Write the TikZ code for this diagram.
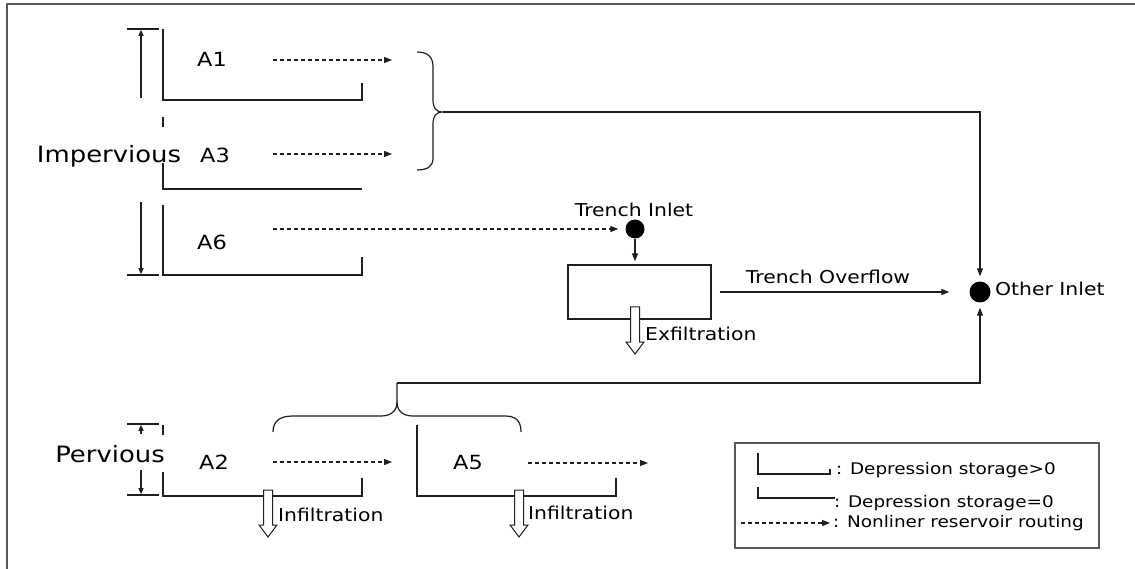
\documentclass[tikz,border=0pt]{standalone}
\usepackage{fontspec}
\setmainfont{DejaVu Sans}[FakeStretch=1.15]
\usetikzlibrary{arrows.meta}
\begin{document}
\begin{tikzpicture}[x=1pt,y=-1pt,
  ink/.style={draw=black!88, line width=1.3pt},
  conn/.style={ink, -{Triangle[length=8pt,width=6pt]}},
  flow/.style={draw=black!88, line width=1.2pt, dash pattern=on 4pt off 3pt,
    -{Triangle[length=8pt,width=6pt]}},
  dim/.style={ink, -{Triangle[length=6pt,width=5pt]}},
  lbl/.style={inner sep=0pt, anchor=base, text=black,
    font=\fontsize{17.7}{20}\selectfont},
  lblw/.style={lbl, anchor=base west},
  area/.style={lbl, font=\fontsize{19.5}{22}\selectfont},
  kind/.style={lbl, font=\fontsize{22.5}{26}\selectfont},
  key/.style={lbl, anchor=base east, font=\fontsize{16}{18}\selectfont},
  dot/.style={circle, fill=black, inner sep=0pt},
  drain/.pic={\draw[draw=black!88, line width=1pt, fill=white]
    (-4.5,0) -- (-4.5,35) -- (-9,35) -- (0,47) -- (9,35) -- (4.5,35) -- (4.5,0) -- cycle;}
]
\useasboundingbox (0,0) rectangle (1135,569);

% outer frame (top and left edges)
\draw[draw=black!65, line width=2pt] (7,569) -- (7,4.5) -- (1135,4.5);

% ---- impervious areas ----
\draw[ink] (127,29) -- (159,29);
\draw[ink] (127,275) -- (159,275);
\draw[dim] (141,98) -- (141,29.8);
\draw[dim] (141,202) -- (141,274.2);
\node[kind] (imp) at (109,163) {Impervious};

\draw[ink] (163,29) -- (163,100) -- (362,100) -- (362,83);
\draw[ink] (163,117) -- (163,127);
\draw[ink] (163,163) -- (163,189) -- (362,189);
\draw[ink] (163,205) -- (163,275) -- (362,275) -- (362,257);

\node[area] (a1) at (212,67) {A1};
\node[area] (a3) at (215,163) {A3};
\node[area] (a6) at (212,250) {A6};

\coordinate (a1s) at (273,60);  \coordinate (a1e) at (392,60);
\coordinate (a3s) at (273,154); \coordinate (a3e) at (392,154);
\coordinate (a6s) at (273,229);
\draw[flow] (a1s) -- (a1e);
\draw[flow] (a3s) -- (a3e);

% brace gathering A1 and A3
\coordinate (btip) at (443,112);
\draw[ink, line width=1.2pt] (417,52) .. controls (428,52) and (433,57) .. (433,67) -- (433,100)
  .. controls (433,108) and (436,112) .. (btip)
  .. controls (436,112) and (433,116) .. (433,124) -- (433,158)
  .. controls (433,166) and (428,170) .. (417,170);

% ---- trench ----
\node[dot, minimum size=19pt] (tin) at (635,229) {};
\node[lbl] (tinl) at (634,217) {Trench Inlet};
\draw[flow, shorten >=7pt] (a6s) -- (tin);
\node[draw=black!88, line width=1.3pt, minimum width=143pt, minimum height=54pt,
  inner sep=0pt] (trench) at (639.5,292) {};
\draw[conn, shorten >=3pt] (tin) -- (tin |- trench.north);
\pic at (635,307) {drain};
\node[lblw] (exf) at (645,340) {Exfiltration};

% ---- other inlet ----
\node[dot, minimum size=21pt] (oin) at (980,292) {};
\node[lblw] (oinl) at (995,296) {Other Inlet};
\draw[conn, shorten <=8pt, shorten >=20pt] (trench.east) -- (oin.west);
\node[lbl] (tov) at (828,284) {Trench Overflow};
\draw[conn, shorten >=5pt] (btip) -| (oin);

% ---- pervious areas ----
\draw[ink] (127,424) -- (159,424);
\draw[ink] (127,495) -- (159,495);
\draw[dim] (141,434) -- (141,424.8);
\draw[dim] (141,470) -- (141,494.2);
\node[kind] (per) at (110,462) {Pervious};

\draw[ink] (163,425) -- (163,435);
\draw[ink] (163,472) -- (163,496) -- (362,496) -- (362,478);
\draw[ink] (417,425) -- (417,496) -- (616,496) -- (616,478);

\node[area] (a2) at (214,469) {A2};
\node[area] (a5) at (468,469) {A5};

\coordinate (a2s) at (273,462); \coordinate (a2e) at (392,462);
\coordinate (a5s) at (528,463); \coordinate (a5e) at (648,463);
\draw[flow] (a2s) -- (a2e);
\draw[flow] (a5s) -- (a5e);

% brace gathering A2 and A5
\coordinate (ptip) at (397,383);
\draw[ink, line width=1.2pt] (273,432) .. controls (273,421) and (280,416) .. (293,416) -- (381,416)
  .. controls (391,416) and (397,411) .. (397,402) -- (ptip);
\draw[ink, line width=1.2pt] (397,402) .. controls (397,411) and (403,416) .. (413,416) -- (505,416)
  .. controls (516,416) and (521,421) .. (521,432);
\draw[conn, shorten >=5pt] (ptip) -| (oin);

\pic at (268,490) {drain};
\pic at (519,490) {drain};
\node[lblw] (inf2) at (278,521) {Infiltration};
\node[lblw] (inf5) at (528,519) {Infiltration};

% ---- legend ----
\node[draw=black!65, line width=1.5pt, minimum width=364pt, minimum height=105pt,
  inner sep=0pt] (legend) at (917,495.5) {};
\draw[ink, line width=1.1pt] (758,453) -- (758,474) -- (830,474) -- (830,469);
\draw[ink, line width=1.1pt] (758,487) -- (758,498) -- (835,498);
\coordinate (ks) at (741,523); \coordinate (ke) at (830,523);
\draw[flow, line width=1.1pt] (ks) -- (ke);
\node[key] (k1) at (1056,474) {: Depression storage>0};
\node[key] (k2) at (1054,507) {: Depression storage=0};
\node[key] (k3) at (1084,527) {: Nonliner reservoir routing};
\end{tikzpicture}
\end{document}
